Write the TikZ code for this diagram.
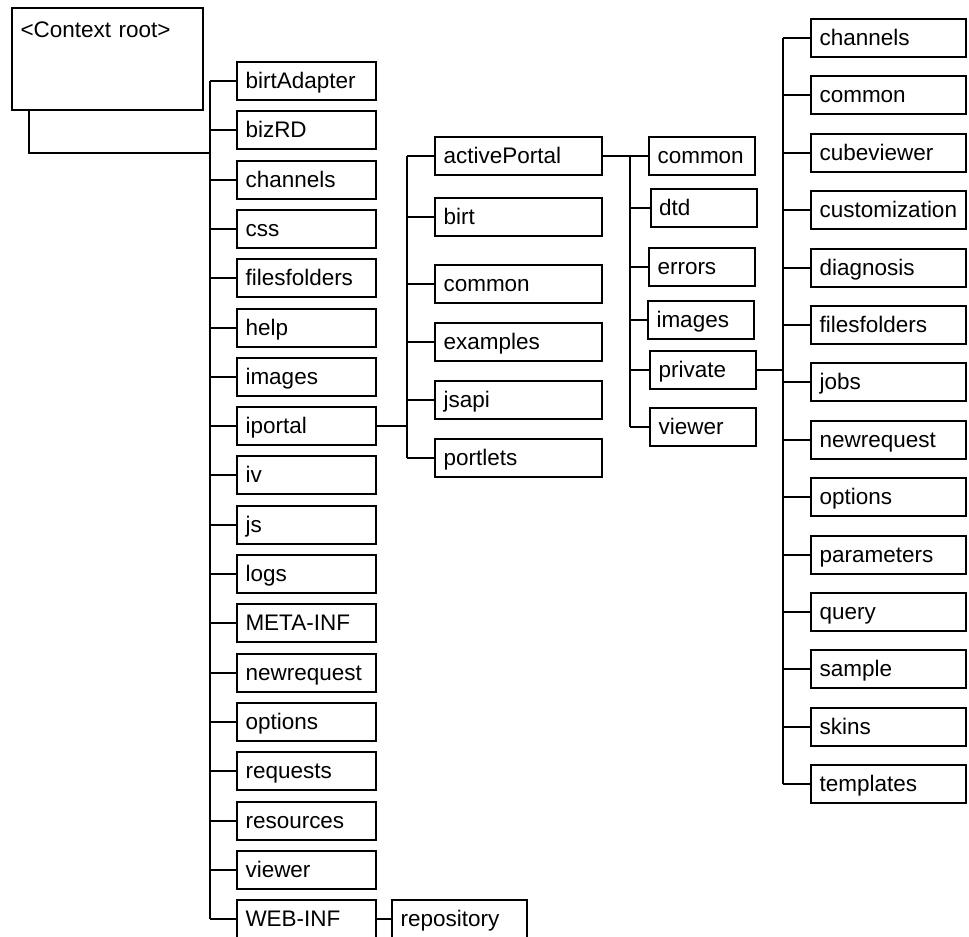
\documentclass[tikz,border=0pt]{standalone}
\usepackage{fontspec}
\setmainfont{Liberation Sans}

\begin{document}
\begin{tikzpicture}[x=0.02cm, y=-0.02cm, line width=0.04cm,
    folder/.style={draw, line width=0.04cm, font=\fontsize{12.8}{15}\selectfont, align=left,
        inner xsep=0.17cm, inner ysep=0pt, minimum height=0.76cm, text height=0.37cm, text depth=0.07cm},
    lone/.style={folder, text width=2.44cm},
    ltwo/.style={folder, text width=3cm},
    lthree/.style={folder, text width=1.78cm},
    lfour/.style={folder, text width=2.76cm}]
    \useasboundingbox (0,0) rectangle (969,936);

    % root folder
    \node[folder, text width=3.48cm, inner ysep=0.22cm, text depth=1.23cm] (root) at (107.5,59) {<Context root>};

    % first level
    \node[lone] (birtadapter) at (306.5,81) {birtAdapter};
    \node[lone] (bizrd) at (306.5,130.3) {bizRD};
    \node[lone] (channels) at (306.5,179.6) {channels};
    \node[lone] (css) at (306.5,228.9) {css};
    \node[lone] (filesfolders) at (306.5,278.2) {filesfolders};
    \node[lone] (help) at (306.5,327.5) {help};
    \node[lone] (images) at (306.5,376.8) {images};
    \node[lone] (iportal) at (306.5,426.1) {iportal};
    \node[lone] (iv) at (306.5,475.4) {iv};
    \node[lone] (js) at (306.5,524.7) {js};
    \node[lone] (logs) at (306.5,574) {logs};
    \node[lone] (metainf) at (306.5,623.3) {META-INF};
    \node[lone] (newrequest) at (306.5,672.6) {newrequest};
    \node[lone] (options) at (306.5,721.9) {options};
    \node[lone] (requests) at (306.5,771.2) {requests};
    \node[lone] (resources) at (306.5,820.5) {resources};
    \node[lone] (viewer) at (306.5,869.8) {viewer};
    \node[lone] (webinf) at (306.5,919.1) {WEB-INF};
    \node[folder, text width=2.36cm] (repository) at (459.5,919.1) {repository};

    % under iportal
    \node[ltwo] (activeportal) at (518.5,156) {activePortal};
    \node[ltwo] (birt) at (518.5,217) {birt};
    \node[ltwo] (ipcommon) at (518.5,284) {common};
    \node[ltwo] (examples) at (518.5,342) {examples};
    \node[ltwo] (jsapi) at (518.5,400) {jsapi};
    \node[ltwo] (portlets) at (518.5,458) {portlets};

    % under activePortal
    \node[lthree] (apcommon) at (702,156) {common};
    \node[lthree] (dtd) at (703.5,208) {dtd};
    \node[lthree] (errors) at (702,267) {errors};
    \node[lthree] (apimages) at (701,320) {images};
    \node[lthree] (private) at (703,370) {private};
    \node[lthree] (apviewer) at (703,427) {viewer};

    % under private
    \node[lfour] (pvchannels) at (888.5,38) {channels};
    \node[lfour] (pvcommon) at (888.5,95.4) {common};
    \node[lfour] (cubeviewer) at (888.5,152.8) {cubeviewer};
    \node[lfour] (customization) at (888.5,210.2) {customization};
    \node[lfour] (diagnosis) at (888.5,267.6) {diagnosis};
    \node[lfour] (pvfilesfolders) at (888.5,325) {filesfolders};
    \node[lfour] (jobs) at (888.5,382.4) {jobs};
    \node[lfour] (pvnewrequest) at (888.5,439.8) {newrequest};
    \node[lfour] (pvoptions) at (888.5,497.2) {options};
    \node[lfour] (parameters) at (888.5,554.6) {parameters};
    \node[lfour] (query) at (888.5,612) {query};
    \node[lfour] (sample) at (888.5,669.4) {sample};
    \node[lfour] (skins) at (888.5,726.8) {skins};
    \node[lfour] (templates) at (888.5,784.2) {templates};

    % trunks
    \coordinate (rootfoot) at ([xshift=0.36cm]root.south west);
    \coordinate (trunk1) at (210,153);
    \coordinate (trunk2) at (407,0);
    \coordinate (trunk3) at (630,0);
    \coordinate (trunk4) at (783,0);
    \draw (rootfoot) |- (trunk1);
    \draw (trunk1 |- birtadapter) -- (trunk1 |- webinf);
    \draw (trunk2 |- activeportal) -- (trunk2 |- portlets);
    \draw (trunk3 |- apcommon) -- (trunk3 |- apviewer);
    \draw (trunk4 |- pvchannels) -- (trunk4 |- templates);

    % branches
    \foreach \n in {birtadapter,bizrd,channels,css,filesfolders,help,images,iportal,iv,js,logs,metainf,newrequest,options,requests,resources,viewer,webinf}
        \draw (\n.west) -- (\n.west -| trunk1);
    \foreach \n in {activeportal,birt,ipcommon,examples,jsapi,portlets}
        \draw (\n.west) -- (\n.west -| trunk2);
    \foreach \n in {dtd,errors,apimages,private,apviewer}
        \draw (\n.west) -- (\n.west -| trunk3);
    \foreach \n in {pvchannels,pvcommon,cubeviewer,customization,diagnosis,pvfilesfolders,jobs,pvnewrequest,pvoptions,parameters,query,sample,skins,templates}
        \draw (\n.west) -- (\n.west -| trunk4);
    \draw (iportal.east) -- (iportal.east -| trunk2);
    \draw (activeportal) -- (apcommon);
    \draw (private.east) -- (private.east -| trunk4);
    \draw (webinf) -- (repository);
\end{tikzpicture}
\end{document}
